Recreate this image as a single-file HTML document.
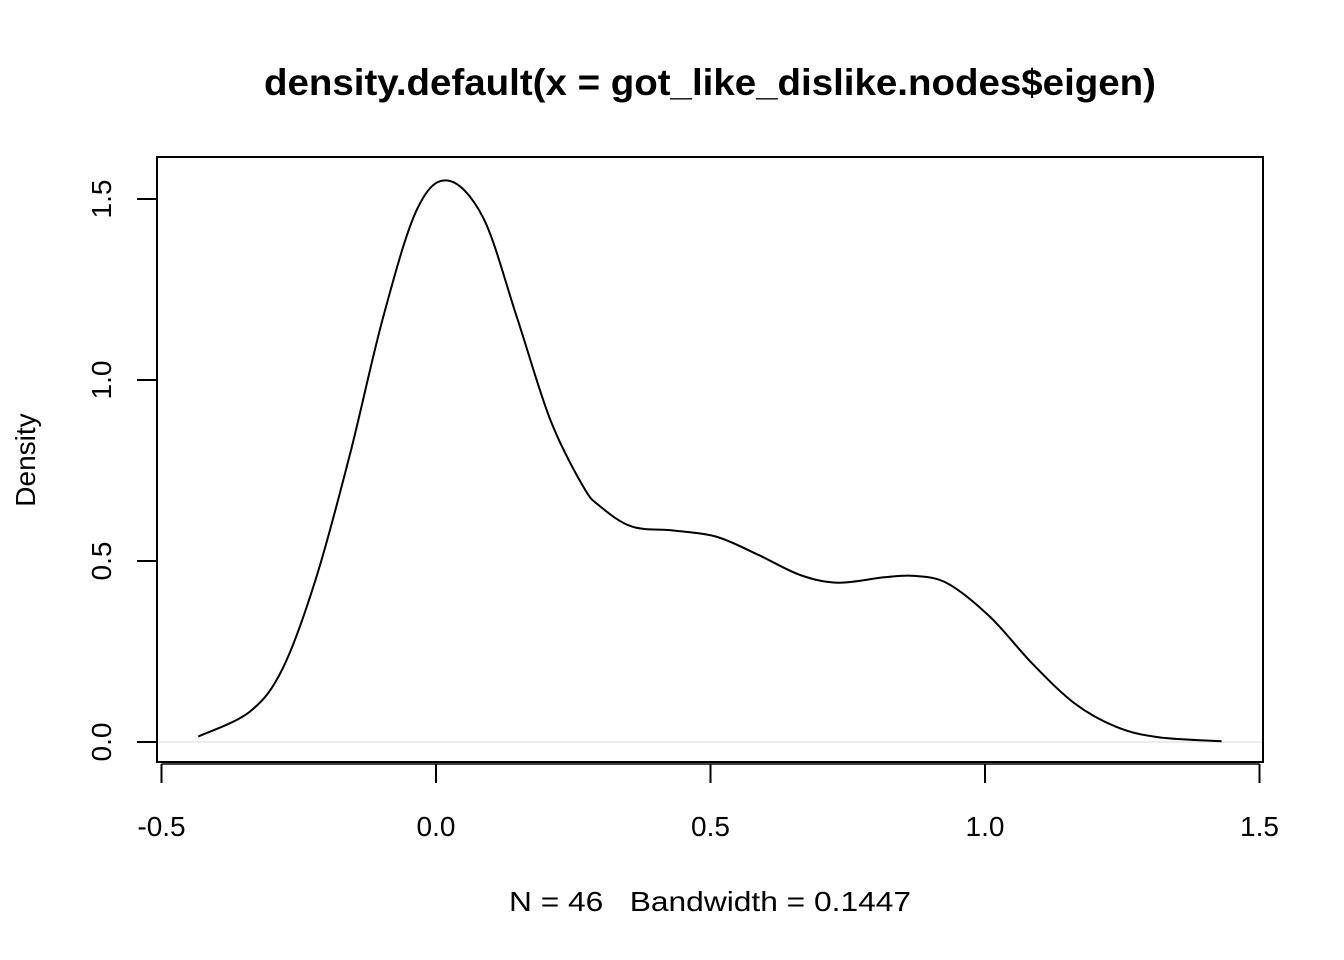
<!DOCTYPE html>
<html><head><meta charset="utf-8"><style>
html,body{margin:0;padding:0;background:#fff;}
svg{display:block;font-family:"Liberation Sans",Arial,sans-serif;}
</style></head><body>
<svg id="chart" width="1344" height="960" viewBox="0 0 1344 960">
<text x="710" y="95" text-anchor="middle" font-size="37" font-weight="bold" textLength="892" lengthAdjust="spacingAndGlyphs">density.default(x = got_like_dislike.nodes$eigen)</text>
<rect x="157" y="157" width="1106" height="605" fill="none" stroke="#000" stroke-width="2"/>
<g id="xaxis"></g>
<g id="yaxis"></g>
<line id="zeroline" stroke="#e6e6e6" stroke-width="1.5"/>
<path id="curve" fill="none" stroke="#000" stroke-width="2"/>
<text transform="translate(35,460) rotate(-90)" text-anchor="middle" font-size="28">Density</text>
<text x="710" y="911" text-anchor="middle" font-size="28" xml:space="preserve" textLength="402" lengthAdjust="spacingAndGlyphs">N = 46   Bandwidth = 0.1447</text>
</svg>
<script>
const xTicks = [-0.5, 0, 0.5, 1.0, 1.5];
const xTickLabels = ["-0.5", "0.0", "0.5", "1.0", "1.5"];
const yTicks = [0, 0.5, 1.0, 1.5];
const yTickLabels = ["0.0", "0.5", "1.0", "1.5"];
const densX = [-0.433,-0.339,-0.279,-0.218,-0.157,-0.096,-0.035,0.021,0.086,0.147,0.208,0.268,0.299,0.357,0.434,0.511,0.587,0.664,0.733,0.817,0.871,0.932,1.009,1.086,1.163,1.239,1.316,1.431];
const densY = [0.015,0.084,0.204,0.455,0.793,1.175,1.47,1.551,1.448,1.175,0.891,0.706,0.651,0.595,0.584,0.567,0.517,0.461,0.440,0.455,0.459,0.438,0.346,0.217,0.107,0.042,0.013,0.002];
const NS='http://www.w3.org/2000/svg';
const sx = v => 436 + (v - 0) * 549;
const sy = v => 742 - v * 362;
const xa = document.getElementById('xaxis'), ya = document.getElementById('yaxis');
function mk(tag, attrs, parent){const e=document.createElementNS(NS,tag);for(const k in attrs)e.setAttribute(k,attrs[k]);parent.appendChild(e);return e;}
let l = mk('line',{x1:sx(xTicks[0]),x2:sx(xTicks[xTicks.length-1]),y1:764,y2:764,stroke:'#000','stroke-width':1.5},xa);


xTicks.forEach((t,i)=>{
  const tk=mk('line',{x1:sx(t),x2:sx(t),y1:764,y2:783,stroke:'#000','stroke-width':2},xa);
  
  
  const tx=mk('text',{x:sx(t),y:836,'text-anchor':'middle','font-size':28},xa);
  tx.textContent=xTickLabels[i];
  
  
});
l = mk('line',{x1:157,x2:157,y1:sy(yTicks[0]),y2:sy(yTicks[yTicks.length-1]),stroke:'#000','stroke-width':2},ya);


yTicks.forEach((t,i)=>{
  const tk=mk('line',{x1:137,x2:157,y1:sy(t),y2:sy(t),stroke:'#000','stroke-width':2},ya);
  
  
  const tx=mk('text',{transform:`translate(111,${sy(t)}) rotate(-90)`,'text-anchor':'middle','font-size':28},ya);
  tx.textContent=yTickLabels[i];
  
  
});
const z=document.getElementById('zeroline');
z.setAttribute('x1',158);z.setAttribute('x2',1262);z.setAttribute('y1',sy(0));z.setAttribute('y2',sy(0));
const P=densX.map((x,i)=>[sx(x),sy(densY[i])]);
let d=`M${P[0][0]},${P[0][1]}`;
for(let i=0;i<P.length-1;i++){
  const p0=P[Math.max(0,i-1)],p1=P[i],p2=P[i+1],p3=P[Math.min(P.length-1,i+2)];
  const c1=[p1[0]+(p2[0]-p0[0])/6,p1[1]+(p2[1]-p0[1])/6];
  const c2=[p2[0]-(p3[0]-p1[0])/6,p2[1]-(p3[1]-p1[1])/6];
  d+=` C${c1[0]},${c1[1]} ${c2[0]},${c2[1]} ${p2[0]},${p2[1]}`;
}
document.getElementById('curve').setAttribute('d',d);
</script>
</body></html>
